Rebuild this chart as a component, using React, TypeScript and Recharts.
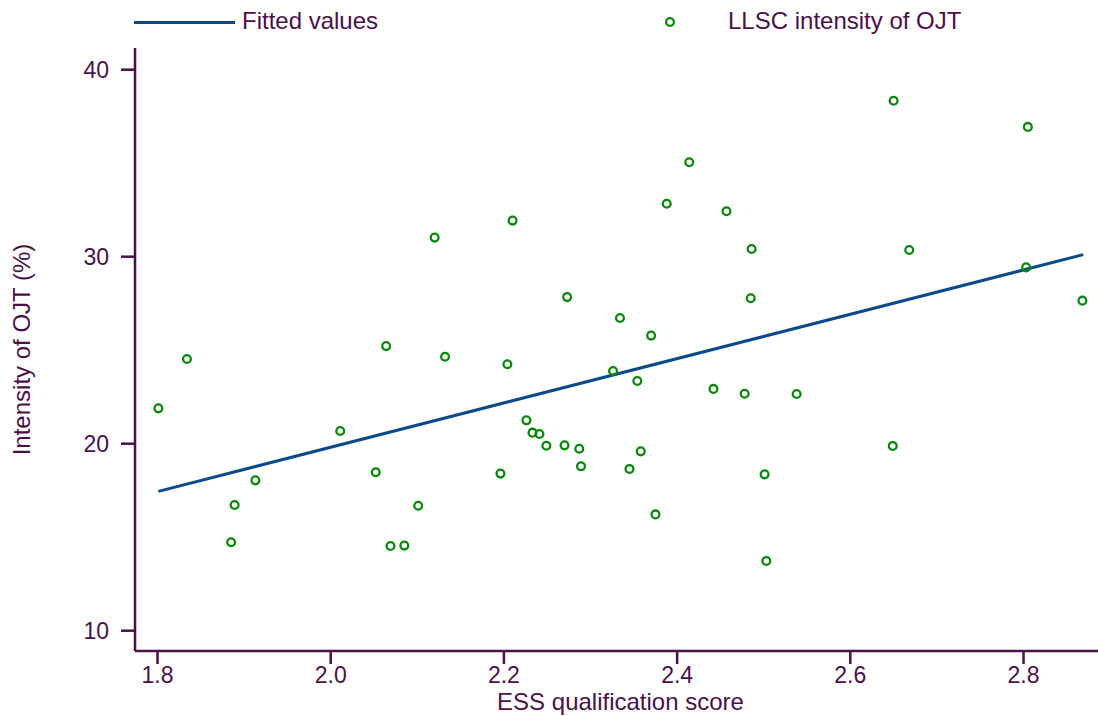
import React from 'react';
import { ScatterChart, Scatter, XAxis, YAxis } from 'recharts';

// ESS qualification score (x) and LLSC intensity of OJT (y)
const essScore = [
  1.801, 1.834, 1.885, 1.889, 1.913, 2.011, 2.052, 2.064, 2.069, 2.085,
  2.101, 2.120, 2.132, 2.196, 2.204, 2.210, 2.226, 2.233, 2.241, 2.249,
  2.270, 2.273, 2.287, 2.289, 2.326, 2.334, 2.345, 2.354, 2.358, 2.370,
  2.375, 2.388, 2.414, 2.442, 2.457, 2.478, 2.485, 2.486, 2.501, 2.503,
  2.538, 2.649, 2.650, 2.668, 2.803, 2.805, 2.868,
];
const ojtIntensity = [
  21.89, 24.53, 14.73, 16.72, 18.04, 20.68, 18.47, 25.22, 14.53, 14.55,
  16.68, 31.02, 24.65, 18.40, 24.25, 31.93, 21.25, 20.59, 20.52, 19.89,
  19.91, 27.84, 19.73, 18.79, 23.89, 26.72, 18.65, 23.35, 19.59, 25.78,
  16.22, 32.83, 35.05, 22.93, 32.43, 22.67, 27.78, 30.41, 18.36, 13.73,
  22.66, 19.88, 38.34, 30.36, 29.43, 36.94, 27.65,
];

// fitted regression line, endpoints
const fitScore = [1.801, 2.869];
const fitValue = [17.45, 30.11];

const xTicks = [1.8, 2.0, 2.2, 2.4, 2.6, 2.8];
const yTicks = [10, 20, 30, 40];

const points = essScore.map((x, i) => ({ x, y: ojtIntensity[i] }));
const fitted = fitScore.map((x, i) => ({ x, y: fitValue[i] }));

const INK = '#4b1048';
const NAVY = '#0b4a8a';
const GREEN = '#08880a';
const FONT = '"Liberation Sans", Arial, sans-serif';

const HollowDot = (props: any) => {
  const { cx, cy } = props;
  if (cx == null || cy == null) return <g />;
  return <circle cx={cx} cy={cy} r={3.9} fill="none" stroke={GREEN} strokeWidth={2.3} />;
};

const NoDot = () => <g />;

const YTitle = (props: any) => {
  const vb = props.viewBox || { x: 0, y: 48, width: 135, height: 603 };
  const x = vb.x + 30;
  const y = vb.y + vb.height / 2;
  return (
    <text x={x} y={y} transform={`rotate(-90, ${x}, ${y})`} textAnchor="middle" fill={INK} fontSize={24} fontFamily={FONT}>
      Intensity of OJT (%)
    </text>
  );
};

const XTitle = (props: any) => {
  const vb = props.viewBox || { x: 135, y: 651, width: 963, height: 65 };
  return (
    <text x={vb.x + vb.width / 2 + 4} y={710} textAnchor="middle" fill={INK} fontSize={24} fontFamily={FONT}>
      ESS qualification score
    </text>
  );
};

const App: React.FC = () => {
  return (
    <div style={{ position: 'absolute', left: 0, top: 0, width: 1098, height: 716, background: '#fff', fontFamily: FONT }}>
      <ScatterChart width={1098} height={716} margin={{ top: 48, right: 0, bottom: 0, left: 0 }}>
        <XAxis
          type="number"
          dataKey="x"
          domain={[1.774, 2.886]}
          ticks={xTicks}
          tickFormatter={(v: number) => v.toFixed(1)}
          allowDataOverflow
          height={65}
          tickSize={13}
          tickMargin={3}
          stroke={INK}
          strokeWidth={2.5}
          tick={{ fill: INK, fontSize: 23, fontFamily: FONT }}
          label={<XTitle />}
        />
        <YAxis
          type="number"
          dataKey="y"
          domain={[8.914, 41.16]}
          ticks={yTicks}
          allowDataOverflow
          width={135}
          tickSize={14}
          tickMargin={12}
          stroke={INK}
          strokeWidth={2.5}
          tick={{ fill: INK, fontSize: 23, fontFamily: FONT }}
          label={<YTitle />}
        />
        <Scatter
          name="Fitted values"
          data={fitted}
          line={{ stroke: NAVY, strokeWidth: 3 }}
          lineType="joint"
          shape={<NoDot />}
          isAnimationActive={false}
        />
        <Scatter
          name="LLSC intensity of OJT"
          data={points}
          shape={<HollowDot />}
          isAnimationActive={false}
        />
      </ScatterChart>

      {/* legend row */}
      <svg width={1098} height={48} style={{ position: 'absolute', left: 0, top: 0 }}>
        <line x1={134} y1={22.5} x2={235} y2={22.5} stroke={NAVY} strokeWidth={3} />
        <text x={242} y={29} fill={INK} fontSize={24} fontFamily={FONT}>Fitted values</text>
        <circle cx={670} cy={22} r={3.9} fill="none" stroke={GREEN} strokeWidth={2.3} />
        <text x={728} y={29} fill={INK} fontSize={24} fontFamily={FONT}>LLSC intensity of OJT</text>
      </svg>
    </div>
  );
};

export default App;
